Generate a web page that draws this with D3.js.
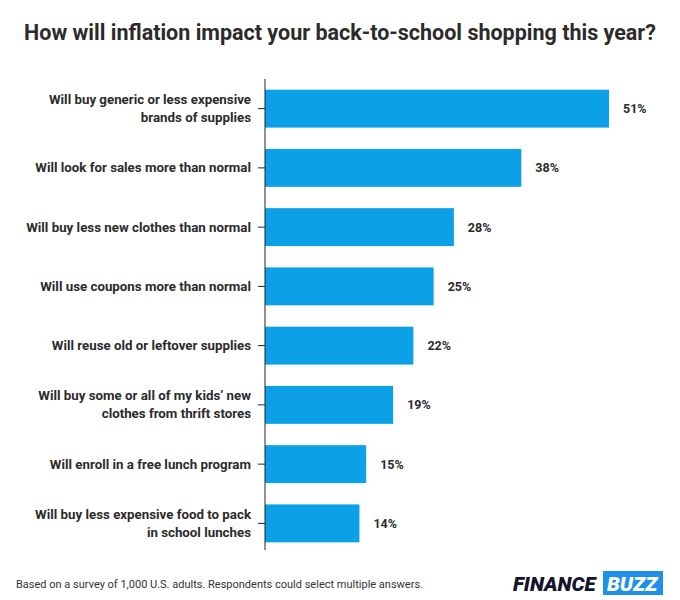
<!DOCTYPE html>
<html><head><meta charset="utf-8">
<script src="https://cdn.jsdelivr.net/npm/d3@7"></script>
<style>body{margin:0;background:#fff}text{font-family:Roboto,sans-serif}</style>
</head><body><svg id="c" width="680" height="600"></svg>
<script>
const categories = [
 ["Will buy generic or less expensive","brands of supplies"],
 ["Will look for sales more than normal"],
 ["Will buy less new clothes than normal"],
 ["Will use coupons more than normal"],
 ["Will reuse old or leftover supplies"],
 ["Will buy some or all of my kids’ new","clothes from thrift stores"],
 ["Will enroll in a free lunch program"],
 ["Will buy less expensive food to pack","in school lunches"]
];
const values = [51,38,28,25,22,19,15,14];
const svg = d3.select("#c");
const x = d3.scaleLinear().domain([0,51]).range([265,609]);
const y = d3.scaleBand().domain(d3.range(values.length)).range([79,553]).paddingInner(0.36).paddingOuter(0.18);
svg.append("text").attr("x",340).attr("y",40).attr("text-anchor","middle")
 .attr("font-size",21.5).attr("font-weight",700).attr("fill","#2b2b2b")
 .text("How will inflation impact your back-to-school shopping this year?");
svg.selectAll("rect.b").data(values).join("rect").attr("x",x(0)).attr("y",(d,i)=>y(i))
 .attr("width",d=>x(d)-x(0)).attr("height",y.bandwidth()).attr("fill","#0ca1e6");
const ax = d3.axisLeft(y).tickSize(7).tickFormat("");
const g = svg.append("g").attr("transform",`translate(${x(0)},0)`).call(ax);
g.select(".domain").attr("stroke","#222").attr("d",`M0,79V550`);
g.selectAll(".tick line").attr("stroke","#222");
categories.forEach((c,i)=>{
 const cy=y(i)+y.bandwidth()/2;
 const t=svg.append("text").attr("text-anchor","end").attr("font-size",13.3).attr("font-weight",700).attr("fill","#2b2b2b");
 c.forEach((l,j)=>t.append("tspan").attr("x",251).attr("y",cy+4.5+(j-(c.length-1)/2)*18).text(l));
});
svg.selectAll("text.v").data(values).join("text").attr("x",d=>x(d)+14).attr("y",(d,i)=>y(i)+y.bandwidth()/2+4.5)
 .attr("font-size",12.5).attr("font-weight",700).attr("fill","#2b2b2b").text(d=>d+"%");
svg.append("text").attr("x",16).attr("y",588).attr("font-size",11).attr("fill","#333")
 .text("Based on a survey of 1,000 U.S. adults. Respondents could select multiple answers.");
svg.append("text").attr("x",513).attr("y",591).attr("font-size",20.5).attr("font-weight",900).attr("font-style","italic").attr("fill","#14142b").text("FINANCE");
svg.append("rect").attr("x",603).attr("y",571).attr("width",60).attr("height",24).attr("fill","#1e90e8");
svg.append("text").attr("x",607).attr("y",591).attr("font-size",20.5).attr("font-weight",900).attr("font-style","italic").attr("fill","#fff").text("BUZZ");
</script></body></html>
